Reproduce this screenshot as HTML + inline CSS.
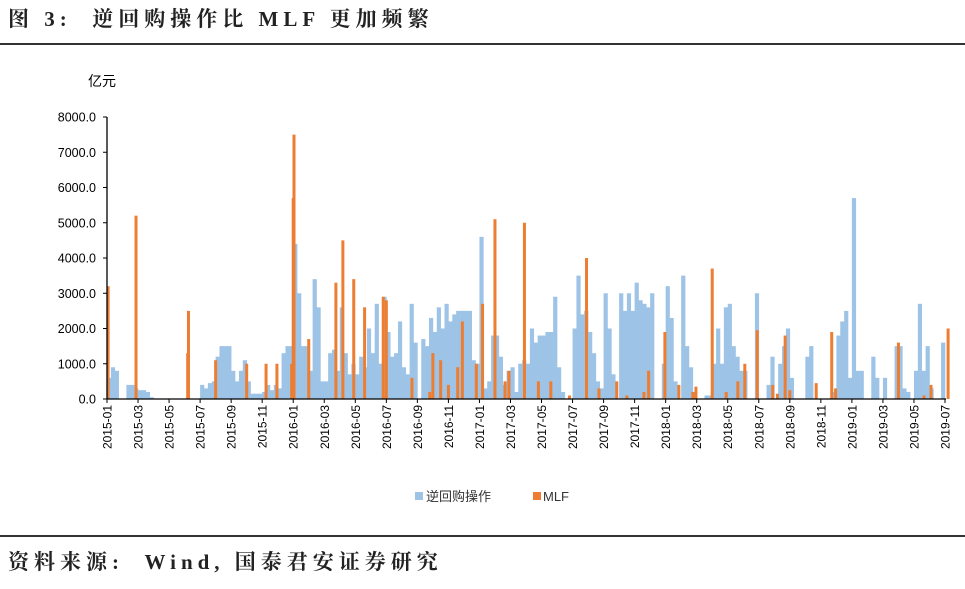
<!DOCTYPE html>
<html><head><meta charset="utf-8"><style>
body{margin:0;background:#fff;width:965px;height:589px;overflow:hidden;font-family:"Liberation Serif","Noto Serif CJK SC",serif}
</style></head><body>
<div style="position:absolute;left:8px;top:3px;font-size:21px;font-weight:bold;color:#222;letter-spacing:5px;white-space:nowrap">图 3:&nbsp; 逆回购操作比 MLF 更加频繁</div>
<div style="position:absolute;left:0;top:43px;width:965px;height:1.5px;background:#333"></div>
<div style="position:absolute;left:0;top:535px;width:965px;height:1.5px;background:#333"></div>
<div style="position:absolute;left:8px;top:546px;font-size:21px;font-weight:bold;color:#222;letter-spacing:5px;white-space:nowrap">资料来源:&nbsp; Wind,&nbsp;国泰君安证券研究</div>
<svg id="c" width="965" height="589" style="position:absolute;left:0;top:0;font-family:'Liberation Sans','Noto Sans CJK SC',sans-serif"></svg>
<script>
const yTicks=[0,1000,2000,3000,4000,5000,6000,7000,8000];
const xLabels=["2015-01","2015-03","2015-05","2015-07","2015-09","2015-11","2016-01","2016-03","2016-05","2016-07","2016-09","2016-11","2017-01","2017-03","2017-05","2017-07","2017-09","2017-11","2018-01","2018-03","2018-05","2018-07","2018-09","2018-11","2019-01","2019-03","2019-05","2019-07"];
// reverse repo, 4 values per month starting 2015-01
const repo=[600,900,800,0, 0,400,400,300, 250,250,200,50, 0,0,0,0, 0,0,0,0, 0,0,0,0,
400,300,450,500, 1200,1500,1500,1500, 800,500,800,1100, 500,150,150,150, 200,400,250,400, 300,1300,1500,1500,
4400,3000,1500,1500, 800,3400,2600,500, 500,1300,1400,800, 2600,1300,700,1000, 700,1200,900,2000, 1300,2700,1000,2900,
1900,1200,1300,2200, 900,700,2700,1600, 0,1700,1500,2300, 1900,2600,2000,2700, 2200,2400,2500,2500, 2500,2500,1100,1000,
4600,300,500,1800, 1800,1200,400,800, 900,200,1000,1100, 1000,2000,1600,1800, 1800,1900,1900,2900, 900,200,0,0,
2000,3500,2400,2500, 1900,1300,500,300, 3000,2000,700,0, 3000,2500,3000,2500, 3300,2800,2700,2600, 3000,0,0,1000,
3200,2300,500,0, 3500,1500,900,200, 0,0,100,100, 1000,2000,1000,2600, 2700,1500,1200,800, 800,0,0,3000,
0,0,400,1200, 0,1000,1500,2000, 600,0,0,0, 1200,1500,0,0, 0,0,0,200, 1800,2200,2500,600,
5700,800,800,0, 0,1200,600,0, 600,0,0,1500, 1500,300,200,0, 800,2700,800,1500, 300,0,0,1600];
// MLF events: month offset from 2015-01 and amount
const mlfMonth=[0.07,1.87,5.2,5.25,7.0,9.0,10.25,10.95,11.9,12.0,12.05,13.0,14.75,15.2,15.9,16.6,17.8,18.0,19.65,20.8,21.0,21.5,22.0,22.6,22.9,23.8,24.2,25.0,25.65,25.9,26.9,27.8,28.6,29.8,30.9,31.7,32.85,33.5,34.6,34.9,35.95,36.85,37.75,37.95,39.0,39.9,40.65,41.1,41.9,42.9,43.2,43.7,44.0,45.7,46.7,46.95,51.0,52.65,53.1,54.2];
const mlfVal=[3200,5200,1300,2500,1100,1000,1000,1000,1000,5700,7500,1700,3300,4500,3400,2600,2900,2800,600,200,1300,1100,400,900,2200,1000,2700,5100,500,800,5000,500,500,100,4000,300,500,100,200,800,1900,400,200,350,3700,200,500,1000,1950,400,150,1800,250,450,1900,300,1600,100,400,2000];
const NS="http://www.w3.org/2000/svg",svg=document.getElementById('c');
const X0=107,X1=945,Y0=399,Y8=117;
const y=v=>Y0-(v/8000)*(Y0-Y8);
const x=m=>X0+m*(X1-X0)/54;
function mk(t,a){const e=document.createElementNS(NS,t);for(const k in a)e.setAttribute(k,a[k]);svg.appendChild(e);return e;}
repo.forEach((v,i)=>{if(!v)return;const r=mk('rect',{x:x(i/4),y:y(v),width:(X1-X0)/216+0.3,height:Y0-y(v),fill:'#9dc3e6'});

});
mlfMonth.forEach((m,i)=>{const v=mlfVal[i];const r=mk('rect',{x:x(m)-1.5,y:y(v),width:3,height:Y0-y(v),fill:'#ed7d31'});

});
const ax=mk('line',{x1:X0,y1:Y8,x2:X0,y2:Y0,stroke:'#000','stroke-width':1.3});


const bx=mk('line',{x1:X0,y1:Y0,x2:X1+1,y2:Y0,stroke:'#000','stroke-width':1.3});


yTicks.forEach(v=>{mk('line',{x1:X0-4,y1:y(v),x2:X0,y2:y(v),stroke:'#000'});
const t=mk('text',{x:96,y:y(v)+4.5,'text-anchor':'end','font-size':12.5,fill:'#000'});t.textContent=v.toFixed(1);

});
xLabels.forEach((l,i)=>{const px=x(i*2);mk('line',{x1:px,y1:Y0,x2:px,y2:Y0+4,stroke:'#000'});
const t=mk('text',{x:0,y:0,'text-anchor':'end','font-size':12,fill:'#000',transform:`translate(${px+4.5},${Y0+6}) rotate(-90)`});t.textContent=l;

});
const u=mk('text',{x:88,y:86,'font-size':14,fill:'#000'});u.textContent='亿元';


mk('rect',{x:415,y:492,width:8,height:8,fill:'#9dc3e6'});
const l1=mk('text',{x:426,y:501,'font-size':13,fill:'#333'});l1.textContent='逆回购操作';


mk('rect',{x:533,y:492,width:8,height:8,fill:'#ed7d31'});
const l2=mk('text',{x:543,y:501,'font-size':13,fill:'#333'});l2.textContent='MLF';


</script>
</body></html>
